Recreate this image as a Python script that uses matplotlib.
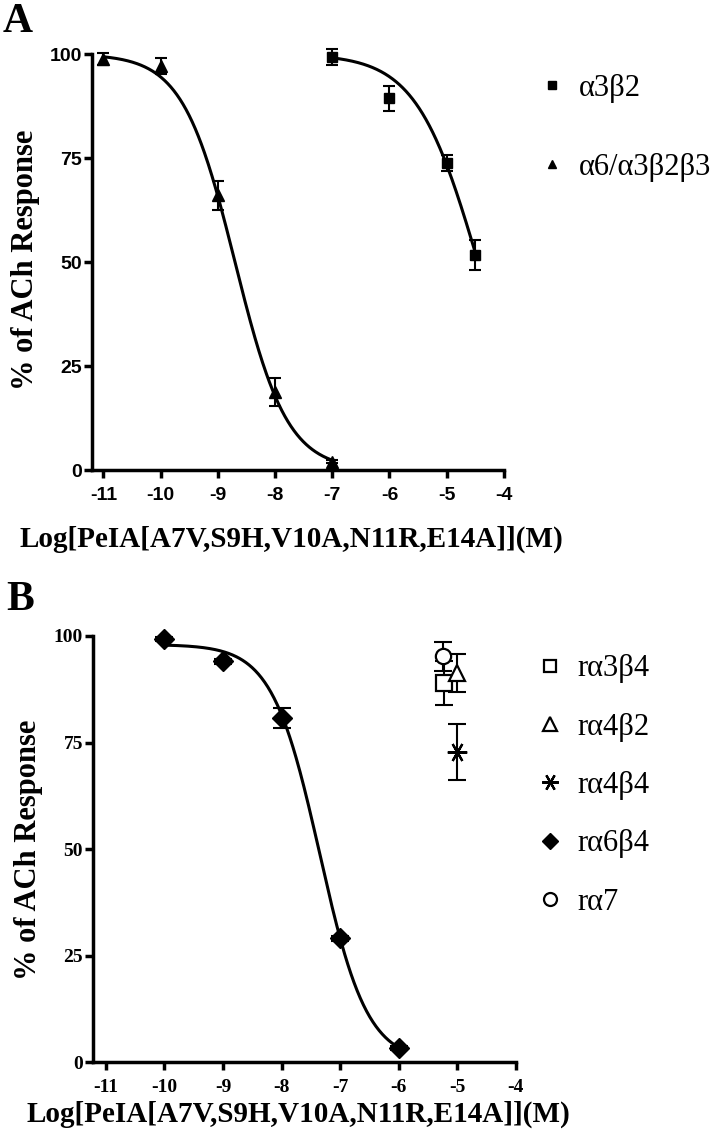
import numpy as np
import matplotlib
matplotlib.use('Agg')
import matplotlib.pyplot as plt

plt.rcParams['axes.unicode_minus'] = False

# ---- panel A data ----
a_x_a3b2 = [-7, -6, -5, -4.5]
a_y_a3b2 = [99.3, 89.4, 73.8, 51.7]
a_e_a3b2 = [2.0, 3.0, 2.0, 3.5]

a_x_a6 = [-11, -10, -9, -8, -7]
a_y_a6 = [98.8, 97.1, 66.1, 18.8, 2.0]
a_e_a6 = [1.5, 2.0, 3.5, 3.3, 0.4]

# fitted curves: (top, logIC50, hill, x from, x to)
fit_a3b2 = (100.0, -4.45, 0.8, -7, -4.5)
fit_a6 = (100.0, -8.7, 0.95, -11, -7)

# ---- panel B data ----
b_x_a6b4 = [-10, -9, -8, -7, -6]
b_y_a6b4 = [99.3, 94.1, 80.8, 29.1, 3.3]
b_e_a6b4 = [0.4, 0.6, 2.4, 0.6, 0.4]
fit_a6b4 = (98.0, -7.35, 1.07, -10, -6)

b_x_a3b4, b_y_a3b4, b_e_a3b4 = [-5.22], [89.0], [5.2]
b_x_a4b2, b_y_a4b2, b_e_a4b2 = [-5.0], [91.3], [4.5]
b_x_a4b4, b_y_a4b4, b_e_a4b4 = [-5.0], [72.8], [6.6]
b_x_a7, b_y_a7, b_e_a7 = [-5.25], [95.3], [3.4]

xticks = [-11, -10, -9, -8, -7, -6, -5, -4]
yticks = [0, 25, 50, 75, 100]
xlabel = 'Log[PeIA[A7V,S9H,V10A,N11R,E14A]](M)'
ylabel = '% of ACh Response'

SERIF = 'Liberation Serif'
SANS = 'Liberation Sans'


def curve(fit):
    top, logic50, hill, x0, x1 = fit
    xs = np.linspace(x0, x1, 300)
    return xs, top / (1 + 10 ** (hill * (xs - logic50)))


def style_axes(ax, xmin, tickfont, size):
    ax.set_xlim(xmin, -4)
    ax.set_ylim(0, 100)
    for s in ['top', 'right']:
        ax.spines[s].set_visible(False)
    for s in ['left', 'bottom']:
        ax.spines[s].set_linewidth(2.5)
    ax.set_xticks(xticks)
    ax.set_yticks(yticks)
    ax.tick_params(axis='both', direction='out', length=6, width=2.5, color='black')
    ax.tick_params(axis='x', pad=6)
    ax.tick_params(axis='y', pad=1)
    for lab in ax.get_xticklabels() + ax.get_yticklabels():
        lab.set_fontfamily(tickfont)
        lab.set_fontweight('bold')
        lab.set_fontsize(size)


fig = plt.figure(figsize=(7.2, 11.41), dpi=100)
fig.patch.set_facecolor('white')

### PANEL A
ax1 = fig.add_axes([0.1278, 0.588, 0.572, 0.3646])
style_axes(ax1, -11.2, SANS, 14)

xs, ys = curve(fit_a6)
ax1.plot(xs, ys, color='black', lw=2.2, clip_on=False)
xs, ys = curve(fit_a3b2)
ax1.plot(xs, ys, color='black', lw=2.2, clip_on=False)

ax1.errorbar(a_x_a3b2, a_y_a3b2, yerr=a_e_a3b2, fmt='none', ecolor='black',
             elinewidth=1.5, capsize=4.3, capthick=1.5, clip_on=False)
ax1.errorbar(a_x_a6, a_y_a6, yerr=a_e_a6, fmt='none', ecolor='black',
             elinewidth=1.5, capsize=4.3, capthick=1.5, clip_on=False)
h_sq, = ax1.plot(a_x_a3b2, a_y_a3b2, 's', color='black', ms=7, ls='none',
                 clip_on=False, label='\u03b13\u03b22')
h_tr, = ax1.plot(a_x_a6, a_y_a6, '^', color='black', ms=8, ls='none',
                 clip_on=False, label='\u03b16/\u03b13\u03b22\u03b23')

ax1.legend(handles=[h_sq, h_tr], loc='center left',
           bbox_to_anchor=(0.747, 0.888), bbox_transform=fig.transFigure,
           frameon=False, prop={'family': SERIF, 'size': 22},
           handlelength=0.9, handletextpad=0.45, labelspacing=1.65,
           borderpad=0, borderaxespad=0, markerscale=0.75)

fig.text(0.004, 0.997, 'A', fontsize=30, fontweight='bold', family=SERIF,
         ha='left', va='top')
fig.text(0.035, 0.772, ylabel, rotation=90, fontsize=22, fontweight='bold',
         family=SERIF, ha='center', va='center')
fig.text(0.405, 0.527, xlabel, fontsize=21, fontweight='bold', family=SERIF,
         ha='center', va='center')

### PANEL B
ax2 = fig.add_axes([0.129, 0.0692, 0.5875, 0.3734])
style_axes(ax2, -11.22, SERIF, 14)

xs, ys = curve(fit_a6b4)
ax2.plot(xs, ys, color='black', lw=2.2, clip_on=False)

eb = dict(fmt='none', ecolor='black', elinewidth=1.5, capsize=6.5, capthick=1.5, clip_on=False)
ax2.errorbar(b_x_a6b4, b_y_a6b4, yerr=b_e_a6b4, **eb)
ax2.errorbar(b_x_a3b4, b_y_a3b4, yerr=b_e_a3b4, **eb)
ax2.errorbar(b_x_a4b2, b_y_a4b2, yerr=b_e_a4b2, **eb)
ax2.errorbar(b_x_a4b4, b_y_a4b4, yerr=b_e_a4b4, **eb)
ax2.errorbar(b_x_a7, b_y_a7, yerr=b_e_a7, **eb)

mk = dict(ls='none', clip_on=False)
h1, = ax2.plot(b_x_a3b4, b_y_a3b4, 's', mfc='white', mec='black', mew=1.6, ms=11,
               label='r\u03b13\u03b24', **mk)
h2, = ax2.plot(b_x_a4b2, b_y_a4b2, '^', mfc='white', mec='black', mew=1.6, ms=12,
               label='r\u03b14\u03b22', **mk)
h3, = ax2.plot(b_x_a4b4, b_y_a4b4, marker=(6, 2, 90), color='black', mew=1.6, ms=14,
               label='r\u03b14\u03b24', **mk)
h4, = ax2.plot(b_x_a6b4, b_y_a6b4, 'D', color='black', ms=10,
               label='r\u03b16\u03b24', **mk)
h5, = ax2.plot(b_x_a7, b_y_a7, 'o', mfc='white', mec='black', mew=1.6, ms=11,
               label='r\u03b17', **mk)

ax2.legend(handles=[h1, h2, h3, h4, h5], loc='center left',
           bbox_to_anchor=(0.745, 0.3116), bbox_transform=fig.transFigure,
           frameon=False, prop={'family': SERIF, 'size': 22},
           handlelength=0.9, handletextpad=0.45, labelspacing=0.96,
           borderpad=0, borderaxespad=0, markerscale=0.85)

fig.text(0.008, 0.491, 'B', fontsize=30, fontweight='bold', family=SERIF,
         ha='left', va='top')
fig.text(0.04, 0.255, ylabel, rotation=90, fontsize=22, fontweight='bold',
         family=SERIF, ha='center', va='center')
fig.text(0.415, 0.023, xlabel, fontsize=21, fontweight='bold', family=SERIF,
         ha='center', va='center')

fig.savefig('out.png', dpi=100, facecolor='white')
